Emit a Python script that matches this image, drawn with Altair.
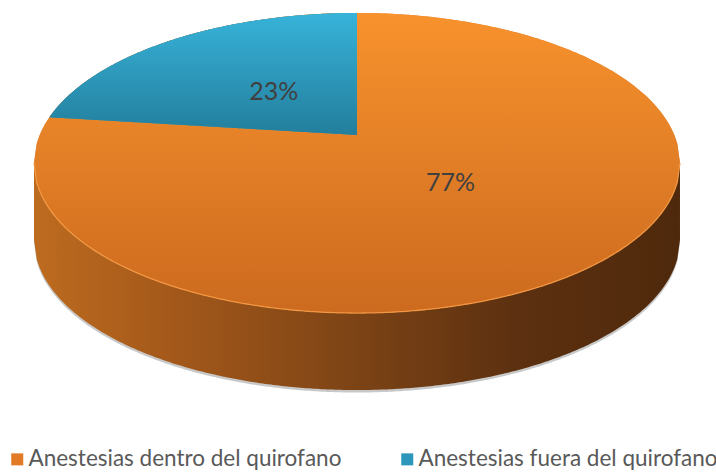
import math
import altair as alt
import pandas as pd

# ---- data ----
categories = ["Anestesias dentro del quirofano", "Anestesias fuera del quirofano"]
shares = [77, 23]
slice_colors = ["#E27B25", "#2C97BA"]

# ---- geometry (styling / layout constants) ----
W, H = 716, 472
VX, VY = 357, 135          # projected pie centre
K = 0.1867                 # perspective factor
B = 144.8                  # vertical radius factor
A = 317.3                  # horizontal radius factor
CY = VY + B * K / (1 - K * K)
RY = B / (1 - K * K)
RX = A / math.sqrt(1 - K * K)
D = 77                     # depth of the 3-D side
R_LABEL = 0.42
N = 240
FONT = "Lato"

total = sum(shares)
rows = []
lab_rows = []
cum = 0
for c, s in zip(categories, shares):
    for i in range(N + 1):
        rows.append({"category": c, "share": s, "frac": s / total,
                     "start": cum / total, "t": i / N})
    lab_rows.append({"category": c, "frac": s / total,
                     "mid": (cum + s / 2) / total})
    cum += s
arc_df = pd.DataFrame(rows)
lab_df = pd.DataFrame(lab_rows)

xs = alt.Scale(domain=[0, W], nice=False, zero=False)
ys = alt.Scale(domain=[0, H], nice=False, zero=False, reverse=True)
X = alt.X("x:Q", scale=xs, axis=None)
Y = alt.Y("y:Q", scale=ys, axis=None)

legend = alt.Legend(
    orient="none", legendX=6, legendY=448, direction="horizontal", title=None,
    padding=0, symbolType="square", symbolSize=144, symbolStrokeWidth=0,
    symbolOpacity=1, labelFont=FONT, labelFontSize=22.5, labelColor="#595959",
    labelLimit=600, labelOffset=0, columnPadding=54,
)
color = alt.Color("category:N", scale=alt.Scale(domain=categories, range=slice_colors),
                  legend=legend)

base = alt.Chart(arc_df)

first = base.transform_filter("datum.start == 0")
ell = first.transform_calculate(s="2*datum.t-1").transform_calculate(
    x=f"{VX}+{RX}*datum.s",
    h=f"{RY}*sqrt(max(0,1-datum.s*datum.s))",
).transform_calculate(
    ytop=f"{CY}-datum.h", ybot=f"{CY}+datum.h", yside=f"{CY}+datum.h+{D}",
    yshadow=f"{CY}+datum.h+{D}+2.5",
)

shadow = ell.mark_area(color="#9A9A9A", opacity=0.55).encode(
    x=X, y=alt.Y("ybot:Q", scale=ys, axis=None), y2="yshadow:Q")

side = ell.mark_area(
    color=alt.Gradient(gradient="linear", x1=0, y1=0, x2=1, y2=0, stops=[
        alt.GradientStop(color="#BD6B1F", offset=0),
        alt.GradientStop(color="#A3581A", offset=0.22),
        alt.GradientStop(color="#7C4315", offset=0.5),
        alt.GradientStop(color="#5C3010", offset=0.75),
        alt.GradientStop(color="#4F290C", offset=1),
    ])
).encode(x=X, y=alt.Y("ybot:Q", scale=ys, axis=None), y2="yside:Q")

orange_base = ell.mark_area().encode(
    x=X, y=alt.Y("ytop:Q", scale=ys, axis=None), y2="ybot:Q", color=color)

orange_top = ell.mark_area(
    color=alt.Gradient(gradient="linear", x1=0, y1=0, x2=0, y2=1, stops=[
        alt.GradientStop(color="#F8922D", offset=0),
        alt.GradientStop(color="#CC6A1F", offset=1),
    ])
).encode(x=X, y=alt.Y("ytop:Q", scale=ys, axis=None), y2="ybot:Q")

edge = ell.mark_line(color="#F59A45", strokeWidth=1.3, opacity=0.9).encode(
    x=X, y=alt.Y("ybot:Q", scale=ys, axis=None), order="t:Q")

blue = base.transform_filter("datum.start > 0").transform_calculate(
    th="2*PI*datum.start"
).transform_calculate(
    xb=f"{VX}+{A}*sin(datum.th)/(1+{K}*cos(datum.th))",
    yb=f"{VY}-{B}*cos(datum.th)/(1+{K}*cos(datum.th))",
).transform_calculate(
    x=f"datum.xb+datum.t*({VX}-datum.xb)"
).transform_calculate(
    s=f"(datum.x-{VX})/{RX}"
).transform_calculate(
    ytop=f"{CY}-{RY}*sqrt(max(0,1-datum.s*datum.s))",
    yline=f"datum.yb+datum.t*({VY}-datum.yb)",
)

blue_base = blue.mark_area().encode(
    x=X, y=alt.Y("ytop:Q", scale=ys, axis=None), y2="yline:Q", color=color)

blue_top = blue.mark_area(
    color=alt.Gradient(gradient="linear", x1=0, y1=0, x2=0, y2=1, stops=[
        alt.GradientStop(color="#37B3D9", offset=0),
        alt.GradientStop(color="#237E9C", offset=1),
    ])
).encode(x=X, y=alt.Y("ytop:Q", scale=ys, axis=None), y2="yline:Q")

labels = alt.Chart(lab_df).transform_calculate(
    th="2*PI*datum.mid"
).transform_calculate(
    u=f"{R_LABEL}*sin(datum.th)", v=f"{R_LABEL}*cos(datum.th)"
).transform_calculate(
    x=f"{VX}+{A}*datum.u/(1+{K}*datum.v)",
    y=f"{VY}-{B}*datum.v/(1+{K}*datum.v)",
    txt="format(datum.frac, '.0%')",
).mark_text(font=FONT, fontSize=25, color="#404040", align="center",
            baseline="middle").encode(x=X, y=Y, text="txt:N")

chart = alt.layer(
    shadow, side, orange_base, orange_top, edge, blue_base, blue_top, labels
).properties(
    width=W, height=H, padding=0,
    autosize=alt.AutoSizeParams(type="none"),
).configure_view(stroke=None)

chart.save("out.html", embed_options={"renderer": "svg", "actions": False})
